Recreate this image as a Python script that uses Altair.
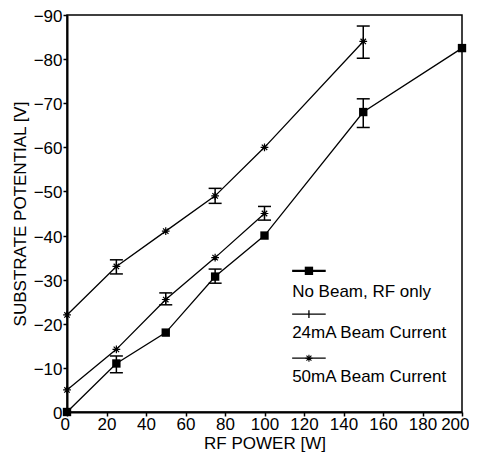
import altair as alt
import pandas as pd

# ---- data ----
power_nobeam = [0, 25, 50, 75, 100, 150, 200]
vpot_nobeam = [0, 11, 18, 30.7, 40, 68, 82.5]

power_24 = [0, 25, 50, 75, 100]
vpot_24 = [5, 14.2, 25.5, 35, 45]

power_50 = [0, 25, 50, 75, 100, 150]
vpot_50 = [22, 33, 41, 49, 60, 84]

series_names = ["No Beam, RF only", "24mA Beam Current", "50mA Beam Current"]

err_series = ["No Beam, RF only", "No Beam, RF only", "No Beam, RF only",
              "24mA Beam Current", "24mA Beam Current",
              "50mA Beam Current", "50mA Beam Current", "50mA Beam Current"]
err_x = [25, 75, 150, 50, 100, 25, 75, 150]
err_lo = [8.9, 29.2, 64.5, 24.3, 43.5, 31.3, 47.3, 80.2]
err_hi = [12.7, 32.4, 71.0, 27.0, 46.6, 34.5, 50.7, 87.5]

x_ticks = list(range(0, 201, 20))
y_ticks = list(range(0, 91, 10))

# ---- tables ----
df_nb = pd.DataFrame({"p": power_nobeam, "v": vpot_nobeam})
df_24 = pd.DataFrame({"p": power_24, "v": vpot_24})
df_50 = pd.DataFrame({"p": power_50, "v": vpot_50})
df_err = pd.DataFrame({"s": err_series, "p": err_x, "lo": err_lo, "hi": err_hi})

# legend placement (in data units, drawn through the chart scales)
leg = pd.DataFrame({
    "s": series_names,
    "p": [114, 114, 114],
    "x1": [131, 131, 131],
    "xm": [122.5, 122.5, 122.5],
    "ysym": [32.0, 22.2, 12.2],
    "ytxt": [27.2, 17.9, 7.9],
})

FONT = "Liberation Sans"
ASTERISK = "M-1,0L1,0M0,-1L0,1M-0.7,-0.7L0.7,0.7M-0.7,0.7L0.7,-0.7"
PLUS = "M0,-1L0,1"

xs = alt.Scale(domain=[0, 200], nice=False, zero=False)
ys = alt.Scale(domain=[0, 90], nice=False, zero=False)

xax = alt.Axis(values=x_ticks, title="RF POWER [W]", tickSize=4, labelPadding=0,
               labelOverlap=False, labelFlush=True, labelFlushOffset=7,
               labelFont=FONT, labelFontSize=17, titleFont=FONT, titleFontSize=17,
               titleFontWeight="normal", titleBaseline="middle", titleY=31,
               domainWidth=2, tickWidth=1.5)
yax = alt.Axis(values=y_ticks, title="SUBSTRATE POTENTIAL [V]", tickSize=4, labelPadding=1,
               labelOverlap=False, labelFlush=False, labelOffset=1.5,
               labelExpr="datum.value == 0 ? '0' : '\u2212' + datum.value",
               labelFont=FONT, labelFontSize=17, titleFont=FONT, titleFontSize=17,
               titleFontWeight="normal", titleX=-47, titleY=198.5, titleAngle=270,
               titleBaseline="middle", titleAlign="center",
               domainWidth=2, tickWidth=1.5)


def X(f):
    return alt.X(f, scale=xs, axis=xax, title="RF POWER [W]")


def Y(f):
    return alt.Y(f, scale=ys, axis=yax, title="SUBSTRATE POTENTIAL [V]")


line_nb = alt.Chart(df_nb).mark_line(color="black", strokeWidth=1.3).encode(x=X("p:Q"), y=Y("v:Q"))
pts_nb = alt.Chart(df_nb).mark_point(shape="square", filled=True, color="black", size=70,
                                     opacity=1).encode(x=X("p:Q"), y=Y("v:Q"))

line_24 = alt.Chart(df_24).mark_line(color="black", strokeWidth=1.3).encode(x=X("p:Q"), y=Y("v:Q"))
pts_24 = alt.Chart(df_24).mark_point(shape=ASTERISK, filled=False, color="black", size=60,
                                     strokeWidth=1.2, opacity=1).encode(x=X("p:Q"), y=Y("v:Q"))

line_50 = alt.Chart(df_50).mark_line(color="black", strokeWidth=1.3).encode(x=X("p:Q"), y=Y("v:Q"))
pts_50 = alt.Chart(df_50).mark_point(shape=ASTERISK, filled=False, color="black", size=60,
                                     strokeWidth=1.2, opacity=1).encode(x=X("p:Q"), y=Y("v:Q"))

err_rule = alt.Chart(df_err).mark_rule(color="black", strokeWidth=1.5).encode(
    x=X("p:Q"), y=Y("lo:Q"), y2="hi:Q")
err_cap_lo = alt.Chart(df_err).mark_tick(orient="horizontal", color="black", size=13,
                                         thickness=1.5, opacity=1).encode(x=X("p:Q"), y=Y("lo:Q"))
err_cap_hi = alt.Chart(df_err).mark_tick(orient="horizontal", color="black", size=13,
                                         thickness=1.5, opacity=1).encode(x=X("p:Q"), y=Y("hi:Q"))

# legend
leg_line = alt.Chart(leg).mark_rule(color="black").encode(
    x=X("p:Q"), x2="x1:Q", y=Y("ysym:Q"),
    strokeWidth=alt.condition(alt.datum.s == series_names[0], alt.value(2.2), alt.value(1.3)))
leg_sq = alt.Chart(leg).transform_filter(alt.datum.s == series_names[0]).mark_point(
    shape="square", filled=True, color="black", size=70, opacity=1).encode(
    x=X("xm:Q"), y=Y("ysym:Q"))
leg_plus = alt.Chart(leg).transform_filter(alt.datum.s == series_names[1]).mark_point(
    shape=PLUS, filled=False, color="black", size=60, strokeWidth=1.3, opacity=1).encode(
    x=X("xm:Q"), y=Y("ysym:Q"))
leg_ast = alt.Chart(leg).transform_filter(alt.datum.s == series_names[2]).mark_point(
    shape=ASTERISK, filled=False, color="black", size=50, strokeWidth=1.1, opacity=1).encode(
    x=X("xm:Q"), y=Y("ysym:Q"))
leg_txt = alt.Chart(leg).mark_text(align="left", baseline="middle", font=FONT, fontSize=17,
                                   color="black").encode(
    x=X("p:Q"), y=Y("ytxt:Q"), text="s:N")

chart = alt.layer(
    line_nb, line_24, line_50, err_rule, err_cap_lo, err_cap_hi,
    pts_nb, pts_24, pts_50,
    leg_line, leg_sq, leg_plus, leg_ast, leg_txt,
).properties(
    width=395, height=397,
    padding={"left": 59, "top": 7, "right": 7, "bottom": 40},
    autosize=alt.AutoSizeParams(type="none"),
    background="white",
).configure_view(
    stroke="black", strokeWidth=1.5
).configure_axis(
    grid=False, labelOverlap=False, domainColor="black", tickColor="black",
    labelColor="black", titleColor="black"
)

chart.save("out.html", embed_options={"renderer": "svg", "actions": False})
